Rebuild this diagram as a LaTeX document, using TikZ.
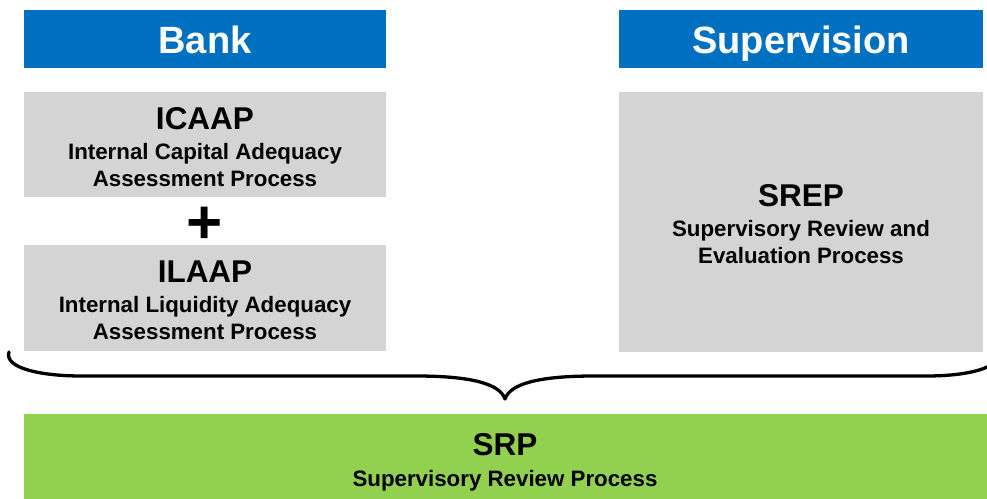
\documentclass[tikz,border=0pt]{standalone}
\usepackage{fontspec}
\setmainfont{Liberation Sans}
\definecolor{hdrblue}{HTML}{0070C0}
\definecolor{boxgray}{HTML}{D4D4D4}
\definecolor{srpgreen}{HTML}{92D050}
\begin{document}
\begin{tikzpicture}[x=1pt,y=-1pt,
  panel/.style={inner sep=0pt, outer sep=0pt, draw=none},
  hdrbox/.style={panel, fill=hdrblue, minimum width=362pt, minimum height=58pt},
  graybox/.style={panel, fill=boxgray, minimum width=362pt},
  hdrtext/.style={anchor=base, inner sep=0pt, text=white, font=\bfseries\fontsize{38}{44}\selectfont},
  ttl/.style={anchor=base, inner sep=0pt, font=\bfseries\fontsize{31.5}{36}\selectfont},
  sub/.style={anchor=base, inner sep=0pt, font=\bfseries\fontsize{22.3}{27}\selectfont},
  bracestyle/.style={line width=3.3pt, line cap=round, line join=round}
]
\useasboundingbox (0,0) rectangle (987,498);

% headers
\node[hdrbox] (bankhdr) at (205,39) {};
\node[hdrbox, minimum width=364pt] (suphdr) at (801,39) {};
\node[hdrtext] (banktxt) at (205,53.5) {Bank};
\node[hdrtext] (suptxt) at (801,53.5) {Supervision};

% ICAAP
\node[graybox, minimum height=105pt] (icaap) at (205,144.5) {};
\node[ttl] (icaapt) at (205,129) {ICAAP};
\node[sub] (icaap1) at (205,159) {Internal Capital Adequacy};
\node[sub] (icaap2) at (205,186) {Assessment Process};

% plus
\node[anchor=base, inner sep=0pt, font=\bfseries\fontsize{62}{70}\selectfont] (plus) at (205,243) {+};

% ILAAP
\node[graybox, minimum height=106pt] (ilaap) at (205,298) {};
\node[ttl] (ilaapt) at (205,282) {ILAAP};
\node[sub] (ilaap1) at (205,312) {Internal Liquidity Adequacy};
\node[sub] (ilaap2) at (205,339) {Assessment Process};

% SREP
\node[graybox, minimum width=364pt, minimum height=260pt] (srep) at (801,222) {};
\node[ttl] (srept) at (801,206) {SREP};
\node[sub] (srep1) at (801,236) {Supervisory Review and};
\node[sub] (srep2) at (801,263) {Evaluation Process};

% brace
\coordinate (bl) at (9,352);
\coordinate (tip) at (505,399);
\coordinate (br) at (997,352);
\draw[bracestyle] (bl) .. controls (4,368) and (40,376) .. (82,376)
  -- (416,376) .. controls (472,376) and (500,384) .. (tip)
  .. controls (510,384) and (538,376) .. (594,376)
  -- (926,376) .. controls (968,376) and (1002,368) .. (br);

% SRP
\node[panel, fill=srpgreen, minimum width=963pt, minimum height=90pt] (srp) at (505.5,459) {};
\node[ttl] (srpt) at (505,455) {SRP};
\node[sub] (srp1) at (505,486) {Supervisory Review Process};
\end{tikzpicture}
\end{document}
